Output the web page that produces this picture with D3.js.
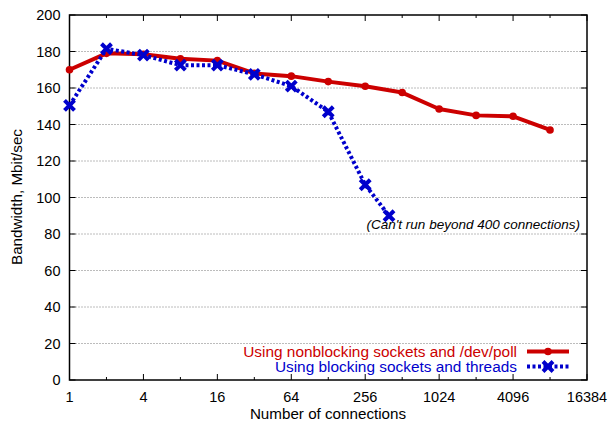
<!DOCTYPE html>
<html><head><meta charset="utf-8">
<script src="https://cdn.jsdelivr.net/npm/d3@7"></script>
<style>body{margin:0;background:#fff}svg text{font-family:"Liberation Sans",Arial,sans-serif}</style>
</head><body><svg id="c" width="610" height="426"></svg>
<script>
const xTicks = [1,4,16,64,256,1024,4096,16384];
const xMinor = [2,8,32,128,512,2048,8192];
const yTicks = [0,20,40,60,80,100,120,140,160,180,200];
const pollX = [1,2,4,8,16,32,64,128,256,512,1024,2048,4096,8192];
const pollY = [170,179,178.5,176,175,168,166.5,163.5,161,157.5,148.5,145,144.5,137];
const threadX = [1,2,4,8,16,32,64,128,256,400];
const threadY = [150.5,181.5,178,172.5,172.5,167.5,161,147,107,90];
const seriesNames = ["Using nonblocking sockets and /dev/poll","Using blocking sockets and threads"];

const svg = d3.select("#c");
const L=69.5,R=587,T=15,B=380;
const x = d3.scaleLog().base(2).domain([1,16384]).range([L,R]);
const y = d3.scaleLinear().domain([0,200]).range([B,T]);

svg.append("g").selectAll("line").data(yTicks.filter(v=>v>0&&v<200)).join("line")
  .attr("x1",L).attr("x2",R).attr("y1",d=>y(d)).attr("y2",d=>y(d))
  .attr("stroke","#555").attr("stroke-width",0.8).attr("stroke-dasharray","1,2");

const tk = svg.append("g").attr("stroke","#000").attr("stroke-width",1);
yTicks.forEach(v=>{
  tk.append("line").attr("x1",L).attr("x2",L+6).attr("y1",y(v)).attr("y2",y(v));
  tk.append("line").attr("x1",R).attr("x2",R-6).attr("y1",y(v)).attr("y2",y(v));
});
xTicks.forEach(v=>{
  tk.append("line").attr("x1",x(v)).attr("x2",x(v)).attr("y1",B).attr("y2",B-6);
  tk.append("line").attr("x1",x(v)).attr("x2",x(v)).attr("y1",T).attr("y2",T+6);
});
xMinor.forEach(v=>{
  tk.append("line").attr("x1",x(v)).attr("x2",x(v)).attr("y1",B).attr("y2",B-3);
  tk.append("line").attr("x1",x(v)).attr("x2",x(v)).attr("y1",T).attr("y2",T+3);
});
svg.append("rect").attr("x",L).attr("y",T).attr("width",R-L).attr("height",B-T)
  .attr("fill","none").attr("stroke","#000").attr("stroke-width",1.5);

svg.append("g").selectAll("text").data(yTicks).join("text")
  .attr("x",L-9).attr("y",d=>y(d)+5).attr("text-anchor","end")
  .attr("font-size",14.5).attr("fill","#000").text(d=>d);
svg.append("g").selectAll("text").data(xTicks).join("text")
  .attr("x",d=>x(d)).attr("y",B+22).attr("text-anchor","middle")
  .attr("font-size",14.5).attr("fill","#000").text(d=>d);

svg.append("text").attr("x",328).attr("y",419).attr("text-anchor","middle")
  .attr("font-size",15.2).text("Number of connections");
svg.append("text").attr("transform","translate(22,197) rotate(-90)").attr("text-anchor","middle")
  .attr("font-size",15.2).text("Bandwidth, Mbit/sec");

const line = d3.line().x(d=>x(d[0])).y(d=>y(d[1]));
const red="#cc0000", blue="#0000cc";
const pd = pollX.map((v,i)=>[v,pollY[i]]);
const td = threadX.map((v,i)=>[v,threadY[i]]);

svg.append("path").datum(pd).attr("d",line).attr("fill","none").attr("stroke",red).attr("stroke-width",4).attr("stroke-linejoin","round");
svg.append("g").selectAll("circle").data(pd).join("circle")
  .attr("cx",d=>x(d[0])).attr("cy",d=>y(d[1])).attr("r",3.8).attr("fill",red);

svg.append("path").datum(td).attr("d",line).attr("fill","none").attr("stroke",blue).attr("stroke-width",4).attr("stroke-dasharray","3,2.5");
const cross = "M-5,-5L5,5M-5,5L5,-5";
function crossMark(g,cx,cy){
  g.append("path").attr("transform",`translate(${cx},${cy})`).attr("d",cross)
   .attr("stroke",blue).attr("stroke-width",4).attr("fill","none");
}
const mg = svg.append("g");
td.forEach(d=>crossMark(mg,x(d[0]),y(d[1])));

svg.append("text").attr("x",580).attr("y",229).attr("text-anchor","end")
  .attr("font-size",13.5).attr("font-style","italic").attr("fill","#000")
  .text("(Can't run beyond 400 connections)");

svg.append("text").attr("x",517).attr("y",357).attr("text-anchor","end").attr("font-size",15.4).attr("fill",red).text(seriesNames[0]);
svg.append("text").attr("x",517).attr("y",372).attr("text-anchor","end").attr("font-size",15.4).attr("fill",blue).text(seriesNames[1]);
svg.append("line").attr("x1",527).attr("x2",569).attr("y1",351.5).attr("y2",351.5).attr("stroke",red).attr("stroke-width",4);
svg.append("circle").attr("cx",548).attr("cy",351.5).attr("r",3.8).attr("fill",red);
svg.append("line").attr("x1",527).attr("x2",569).attr("y1",366.5).attr("y2",366.5).attr("stroke",blue).attr("stroke-width",4).attr("stroke-dasharray","3,2.5");
crossMark(svg,548,366.5);
</script></body></html>
